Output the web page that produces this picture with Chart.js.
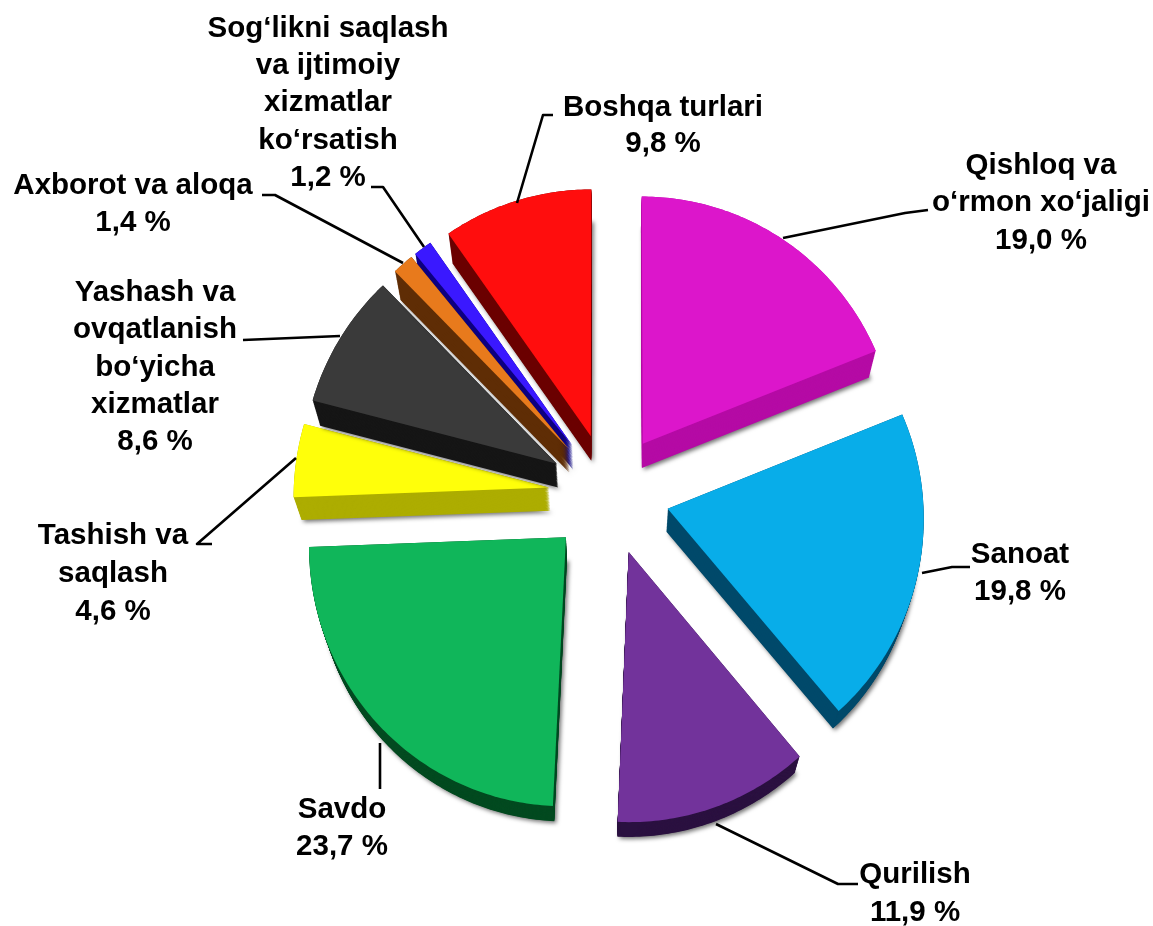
<!DOCTYPE html>
<html>
<head>
<meta charset="utf-8">
<style>html,body{margin:0;padding:0;background:#fff}canvas{display:block}</style>
<script src="https://cdn.jsdelivr.net/npm/chart.js@4"></script>
</head>
<body>
<canvas id="c" width="1153" height="926"></canvas>
<script>
const categories = ["Qishloq va o‘rmon xo‘jaligi","Sanoat","Qurilish","Savdo","Tashish va saqlash","Yashash va ovqatlanish bo‘yicha xizmatlar","Axborot va aloqa","Sog‘likni saqlash va ijtimoiy xizmatlar ko‘rsatish","Boshqa turlari"];
const shares = [19.0,19.8,11.9,23.7,4.6,8.6,1.4,1.2,9.8];
const topColors = ["#DC16CB","#08ADE9","#72339B","#10B65A","#FFFF0A","#3A3A3A","#E87A1C","#3A18FF","#FF0D0D"];
const sideColors = ["#B50BA5","#00496A","#2B1140","#034A20","#ADAD00","#161616","#5F2D05","#0D0080","#6B0000"];
const labelLines = [
  ["Qishloq va","o‘rmon xo‘jaligi","19,0 %"],
  ["Sanoat","19,8 %"],
  ["Qurilish","11,9 %"],
  ["Savdo","23,7 %"],
  ["Tashish va","saqlash","4,6 %"],
  ["Yashash va","ovqatlanish","bo‘yicha","xizmatlar","8,6 %"],
  ["Axborot va aloqa","1,4 %"],
  ["Sog‘likni saqlash","va ijtimoiy","xizmatlar","ko‘rsatish","1,2 %"],
  ["Boshqa turlari","9,8 %"]
];
const labelCenterX = [1041,1020,915,342,113,155,133,328,663];
const labelLineY = [
  [166,203,241],[555,592],[875,913],[810,847],[536,574,612],
  [293,330,368,405,442],[186,223],[29,66,103,141,178],[108,144]
];
const leaders = [
  [[928,210],[905,213],[783,238]],
  [[970,567],[952,567],[922,573]],
  [[858,884],[838,884],[716,824]],
  [[380,743],[380,789]],
  [[212,544],[197,544],[296,458]],
  [[243,340],[340,336]],
  [[262,195],[275,195],[403,263]],
  [[371,187],[383,187],[424,247]],
  [[553,115],[543,115],[517,203]]
];
const drawOrder = [0,1,2,3,4,5,8,7,6];
const EXPLODE = 61, PERSPECTIVE = 0.00012, X_SCALE = 0.99, DEPTH_SCALE = 0.975, VANISH_Y = 1413, FONT_SIZE = 29.5;

const pie3d = {
  id: 'pie3d',
  beforeDatasetDraw(chart, args) {
    const ctx = chart.ctx, arcs = chart.getDatasetMeta(args.index).data;
    const cx = arcs[0].x, cy = arcs[0].y;
    const proj = (x, y) => {
      const X = x - cx, Y = y - cy, w = 1 / (1 - PERSPECTIVE * Y);
      return [cx + X * w * X_SCALE, cy + Y * w];
    };
    const outline = (arc) => {
      const mid = (arc.startAngle + arc.endAngle) / 2;
      const ox = cx + Math.cos(mid) * EXPLODE, oy = cy + Math.sin(mid) * EXPLODE;
      const pts = [proj(ox, oy)];
      const n = Math.max(2, Math.ceil((arc.endAngle - arc.startAngle) * 70));
      for (let i = 0; i <= n; i++) {
        const a = arc.startAngle + (arc.endAngle - arc.startAngle) * i / n;
        pts.push(proj(ox + Math.cos(a) * arc.outerRadius, oy + Math.sin(a) * arc.outerRadius));
      }
      return pts;
    };
    const fillAt = (pts, t, color) => {
      const s = 1 - (1 - DEPTH_SCALE) * t;
      ctx.beginPath();
      pts.forEach((p, i) => {
        const x = cx + (p[0] - cx) * s, y = VANISH_Y + (p[1] - VANISH_Y) * s;
        if (i) ctx.lineTo(x, y); else ctx.moveTo(x, y);
      });
      ctx.closePath();
      ctx.fillStyle = color;
      ctx.fill();
    };
    drawOrder.forEach((i) => {
      const arc = arcs[i], pts = outline(arc);
      ctx.save();
      ctx.shadowColor = 'rgba(0,0,0,0.55)';
      ctx.shadowBlur = 4;
      ctx.shadowOffsetX = 2;
      ctx.shadowOffsetY = 2;
      fillAt(pts, 1, sideColors[i]);
      ctx.restore();
      for (let t = 29; t >= 0; t--) fillAt(pts, t / 30, sideColors[i]);
      fillAt(pts, 0, arc.options.backgroundColor);
    });
    return false;
  },
  afterDraw(chart) {
    const ctx = chart.ctx;
    ctx.save();
    ctx.strokeStyle = '#000';
    ctx.lineWidth = 2.6;
    ctx.lineJoin = 'round';
    leaders.forEach(l => {
      ctx.beginPath();
      l.forEach((p, i) => i ? ctx.lineTo(p[0], p[1]) : ctx.moveTo(p[0], p[1]));
      ctx.stroke();
    });
    ctx.fillStyle = '#000';
    ctx.font = 'bold ' + FONT_SIZE + 'px "Liberation Sans", Arial, sans-serif';
    ctx.textAlign = 'center';
    ctx.textBaseline = 'middle';
    labelLines.forEach((lines, i) => lines.forEach((t, j) => ctx.fillText(t, labelCenterX[i], labelLineY[i][j])));
    ctx.restore();
  }
};

new Chart(document.getElementById('c'), {
  type: 'pie',
  data: { labels: categories, datasets: [{ data: shares, backgroundColor: topColors, borderWidth: 0 }] },
  options: {
    responsive: false,
    animation: false,
    layout: { padding: { left: 351, right: 286, top: 236, bottom: 174 } },
    plugins: { legend: { display: false }, tooltip: { enabled: false } }
  },
  plugins: [pie3d]
});
</script>
</body>
</html>
